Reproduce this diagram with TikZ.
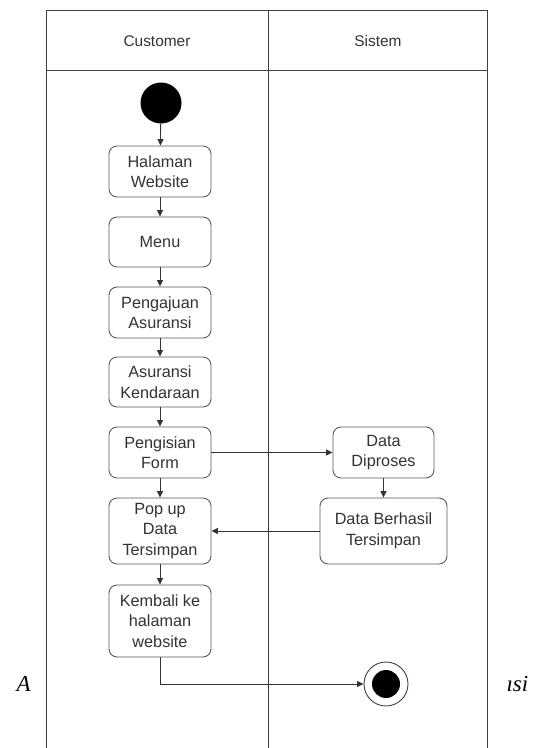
\documentclass[tikz,border=0pt]{standalone}
\usepackage{fontspec}
\setmainfont{Liberation Sans}
\newfontfamily\captionserif{Liberation Serif}
\usetikzlibrary{arrows.meta}
\begin{document}
\begin{tikzpicture}[x=1bp,y=-1bp,
  lane/.style={draw=black!75,line width=0.9bp},
  act/.style={draw=black!65,line width=0.9bp,rounded corners=8bp,fill=white,
    align=center,font=\fontsize{16.3}{20.5}\selectfont,text=black!80,inner sep=2bp},
  flow/.style={draw=black!80,line width=0.9bp,-{Triangle[length=6.5bp,width=6bp]}},
  hdr/.style={font=\fontsize{15.5}{18}\selectfont,text=black!80}]
\useasboundingbox (0,0) rectangle (539,748);
% swimlanes
\draw[lane] (46,748) -- (46,10) -- (487,10) -- (487,748);
\draw[lane] (46,70) -- (487,70);
\draw[lane] (268,10) -- (268,748);
\node[hdr] (hc) at (157,41) {Customer};
\node[hdr] (hs) at (378,41) {Sistem};
% customer actions
\node[fill=black,circle,minimum size=41bp,inner sep=0] (start) at (161,103) {};
\node[act,minimum width=102bp,minimum height=51bp] (hw) at (160,171.5) {Halaman\\Website};
\node[act,minimum width=102bp,minimum height=50bp] (menu) at (160,242) {Menu};
\node[act,minimum width=102bp,minimum height=51bp] (pa) at (160,312.5) {Pengajuan\\Asuransi};
\node[act,minimum width=102bp,minimum height=50bp] (ak) at (160,382) {Asuransi\\Kendaraan};
\node[act,minimum width=102bp,minimum height=51bp] (pf) at (160,452.5) {Pengisian\\Form};
\node[act,minimum width=102bp,minimum height=66bp] (pop) at (160,531) {Pop up\\Data\\Tersimpan};
\node[act,minimum width=102bp,minimum height=72bp] (kb) at (160,621) {Kembali ke\\halaman\\website};
% system actions
\node[act,minimum width=101bp,minimum height=51bp] (dp) at (383.5,452.5) {Data\\Diproses};
\node[act,minimum width=127bp,minimum height=66bp] (dbt) at (383.5,531) {Data Berhasil\\Tersimpan};
% final node
\node[draw=black!75,line width=0.9bp,circle,minimum size=44bp,inner sep=0,fill=white] (end) at (386,684) {};
\node[fill=black,circle,minimum size=28bp,inner sep=0] (endc) at (386,684) {};
% flows
\draw[flow] (start) -- (hw);
\draw[flow] (hw) -- (menu);
\draw[flow] (menu) -- (pa);
\draw[flow] (pa) -- (ak);
\draw[flow] (ak) -- (pf);
\draw[flow] (pf) -- (pop);
\draw[flow] (pop) -- (kb);
\draw[flow] (pf.east) -- (dp.west);
\draw[flow] (dp) -- (dbt);
\draw[flow] (dbt.west) -- (pop.east);
\draw[flow] (kb.south) |- (end.west);
% fragments of the caption behind the diagram
\node[font=\captionserif\itshape\fontsize{23}{26}\selectfont,anchor=west] (capa) at (13,684) {A};
\node[font=\captionserif\itshape\fontsize{23}{26}\selectfont,anchor=west] (capb) at (503,684) {ısi};
\end{tikzpicture}
\end{document}
